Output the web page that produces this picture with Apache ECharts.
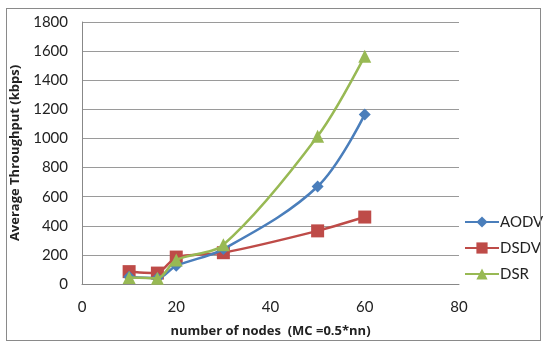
<!DOCTYPE html>
<html><head><meta charset="utf-8">
<script src="https://cdn.jsdelivr.net/npm/echarts@6/dist/echarts.min.js"></script>
<style>html,body{margin:0;padding:0;background:#fff}#c{width:550px;height:349px}
#frame{position:absolute;left:6px;top:8px;width:535px;height:333px;border:1px solid #8a8a8a;box-sizing:border-box;pointer-events:none}</style>
</head><body><div id="c"></div><div id="frame"></div>
<script>
const nodes = [10, 16, 20, 30, 50, 60];
const aodv = [50, 40, 125, 240, 670, 1165];
const dsdv = [85, 75, 185, 215, 365, 460];
const dsr = [45, 40, 165, 270, 1015, 1565];
const xTicks = [0, 20, 40, 60, 80];
const yTicks = [0, 200, 400, 600, 800, 1000, 1200, 1400, 1600, 1800];

const font = 'Lato, "Open Sans", sans-serif';
const pair = arr => nodes.map((n, i) => [n, arr[i]]);
const chart = echarts.init(document.getElementById('c'));
chart.setOption({
  animation: false,
  grid: {left: 82, right: 91, top: 22, bottom: 65},
  legend: {
    orient: 'vertical', left: 459, top: 209, itemWidth: 34, itemHeight: 14, itemGap: 10,
    textStyle: {fontFamily: font, fontSize: 15, lineHeight: 16, color: '#222', padding: [0,0,0,-4]},
    data: ['AODV', 'DSDV', 'DSR']
  },
  xAxis: {
    type: 'value', min: xTicks[0], max: xTicks[xTicks.length-1], interval: 20,
    name: 'number of nodes  (MC =0.5*nn)', nameLocation: 'middle', nameGap: 41,
    nameTextStyle: {fontFamily: '"Open Sans", sans-serif', fontSize: 13, fontWeight: 'bold', color: '#222'},
    axisLine: {show: true, lineStyle: {color: '#888'}}, axisTick: {show: false},
    axisLabel: {fontFamily: font, fontSize: 15, color: '#222', margin: 16},
    splitLine: {show: false}
  },
  yAxis: {
    type: 'value', min: yTicks[0], max: yTicks[yTicks.length-1], interval: 200,
    name: 'Average Throughput (kbps)', nameLocation: 'middle', nameGap: 60,
    nameTextStyle: {fontFamily: '"Open Sans", sans-serif', fontSize: 13, fontWeight: 'bold', color: '#222'},
    axisLine: {show: true, lineStyle: {color: '#888'}}, axisTick: {show: false},
    axisLabel: {fontFamily: font, fontSize: 15, color: '#222', margin: 14, formatter: v => String(v)},
    splitLine: {show: true, lineStyle: {color: '#9a9a9a', width: 1}}
  },
  series: [
    {name: 'AODV', type: 'line', data: pair(aodv), smooth: 0.35, symbol: 'diamond', symbolSize: 12,
     itemStyle: {color: '#4a7ebb'}, lineStyle: {width: 2.5, color: '#4a7ebb'}, z: 3},
    {name: 'DSDV', type: 'line', data: pair(dsdv), smooth: 0.2, symbol: 'rect', symbolSize: 13,
     itemStyle: {color: '#be4b48'}, lineStyle: {width: 2.5, color: '#be4b48'}, z: 2},
    {name: 'DSR', type: 'line', data: pair(dsr), smooth: 0.3, symbol: 'triangle', symbolSize: 13,
     itemStyle: {color: '#98b954'}, lineStyle: {width: 2.5, color: '#98b954'}, z: 4}
  ]
});
</script></body></html>
